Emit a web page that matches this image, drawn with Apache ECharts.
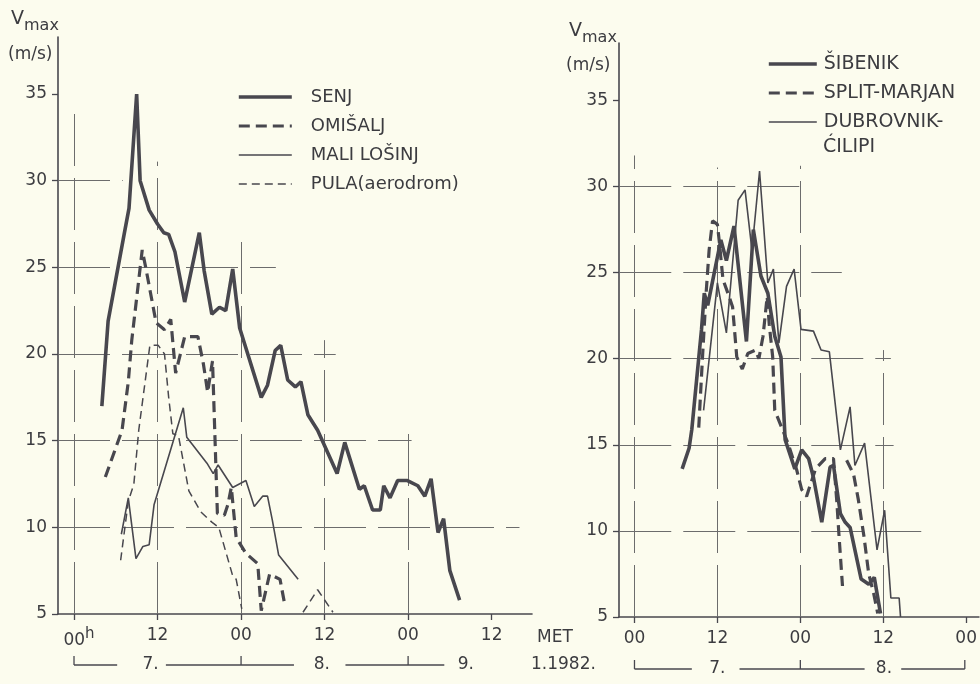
<!DOCTYPE html>
<html><head><meta charset="utf-8">
<script src="https://cdn.jsdelivr.net/npm/echarts@6/dist/echarts.min.js"></script>
<style>html,body{margin:0;padding:0;background:#fcfcee}#c{width:980px;height:684px}</style>
</head><body><div id="c"></div>
<script>
// ---- data: [hour from 7.1.1982 00h MET, v max (m/s)] ----
const senj = [[4,17],[4.9,21.9],[7.2,26.9],[7.9,28.4],[9,35],[9.5,30],[10.8,28.3],[12,27.5],[12.9,27],[13.6,26.9],[14.5,25.9],[15.9,23],[18,27],[18.7,24.8],[19.8,22.3],[20.9,22.7],[21.8,22.5],[22.8,24.9],[23.8,21.5],[26.9,17.5],[27.8,18.2],[28.9,20.2],[29.7,20.5],[30.7,18.5],[31.8,18.1],[32.6,18.4],[33.6,16.5],[35,15.6],[37.8,13.1],[38.9,14.9],[41,12.2],[41.7,12.4],[42.9,11],[44,11],[44.5,12.4],[45.4,11.7],[46.5,12.7],[47.9,12.7],[49.4,12.4],[50.4,11.8],[51.3,12.8],[52.3,9.7],[53.1,10.5],[54,7.5],[55.4,5.8]];
const omisalj = [[4.5,12.9],[6.9,15.6],[7.8,18.4],[8.3,20.8],[9.8,26],[10.3,25],[11.8,21.8],[13,21.4],[13.9,22],[14.6,18.9],[15.9,21],[17.8,21],[18.6,19.4],[19.2,17.8],[19.9,19.6],[20.6,10.8],[21.6,10.7],[22.1,11.3],[22.6,12.3],[23.3,9.4],[24.7,8.5],[26.4,7.9],[26.9,5.2],[28.1,7.3],[29.6,7.0],[30.3,5.5]];
const maliLosinj = [[6.8,9.6],[7.8,11.7],[8.9,8.2],[9.9,8.9],[10.8,9.0],[11.5,11.3],[15.7,16.9],[16.2,15.2],[19.1,13.7],[20,13.1],[20.7,13.6],[22.8,12.3],[24.7,12.7],[25.9,11.2],[27.1,11.8],[27.8,11.8],[28.5,10.4],[29.4,8.4],[32.2,7.0]];
const pulaA = [[6.7,8.1],[7.8,11.5],[8.6,12.5],[9.3,15.6],[10.9,20.5],[12.1,20.5],[13,20],[13.6,17.5],[14.2,15.4],[15,15.3],[16.5,12.1],[18.2,10.9],[19.8,10.3],[20.8,10],[22.8,7.2],[23.3,7.0],[24.1,5.3]];
const pulaB = [[32.9,5.1],[35,6.4],[37.2,5.1]];
const sibenik = [[6.9,13.6],[7.9,14.8],[8.3,15.9],[9.7,21.7],[10.1,23.8],[10.6,23.1],[12.5,26.9],[13.3,25.7],[14.4,27.7],[16.2,21],[17.2,27.5],[18.3,24.8],[19.3,23.8],[20.3,21.3],[21.2,20.1],[21.8,15.3],[23.2,13.6],[24.2,14.7],[25.2,14.2],[25.9,13.1],[27.1,10.5],[28.3,13.7],[28.8,13.8],[29.8,11],[30.5,10.5],[31.2,10.2],[32.8,7.2],[33.9,6.9],[34.7,7.3],[35.6,5.2]];
const splitA = [[9.3,16],[9.9,20.5],[10.4,24],[10.8,26.3],[11.3,28],[12,27.8],[12.3,26.7],[12.8,24.6],[13.7,23.6],[14.2,23],[14.8,20.1],[15.6,19.4],[16.4,20.3],[17.5,20.5],[18,20],[18.6,21.3],[19.2,23.6],[19.5,22],[20,20.1],[20.3,17],[21.6,15.7],[22.2,15.1],[23.5,13.5],[24.2,12.4],[24.9,12],[26.2,13.6],[27.6,14.2],[28.8,14.2],[29.3,11.6],[29.6,9.7],[30.1,6.8]];
const splitB = [[30.7,14.1],[31.7,13.3],[32.4,11.8],[33.2,9.7],[33.9,7.5],[34.6,6.4],[35.2,5.2]];
const dubrovnik = [[10,17],[12,24.4],[13.3,21.5],[15,29.2],[16,29.8],[17,26.3],[18.1,30.9],[19.3,24.4],[20.1,25.2],[20.9,20.9],[22,24.2],[23.1,25.2],[24.1,21.7],[25.9,21.6],[27,20.5],[28.2,20.4],[29.8,14.7],[31.2,17.2],[31.9,13.8],[33.3,15.1],[35.1,8.9],[36.2,11.2],[37.1,6.1],[38.3,6.1],[38.5,5]];

const yTicks = [5,10,15,20,25,30,35];
const xTicksL = [0,12,24,36,48,60];
const xTicksR = [0,12,24,36,48];
const namesL = ['SENJ','OMIŠALJ','MALI LOŠINJ','PULA(aerodrom)'];
const namesR = ['ŠIBENIK','SPLIT-MARJAN','DUBROVNIK-ĆILIPI'];

// ---- partial graph-paper grid (value, from, to) ----
const gridHL = [[10,-2.3,64],[15,-2.3,48.5],[20,-2.3,37.6],[25,-2.3,29],[30,-2.3,7]];
const gridVL = [[0,5,33.9],[12,5,31.1],[24,5,26.8],[36,5,20.8],[48,5,15.6]];
const gridHR = [[10,-2.2,41.5],[15,-2.2,37.5],[20,-2.2,37.1],[25,-2.2,30],[30,-2.2,25]];
const gridVR = [[0,5,31.8],[12,5,31.1],[24,5,31.2],[36,5,20.5]];

const INK = '#48474e', TXT = '#3c3c40', GRD = '#6c6c6c', FONT = 'DejaVu Sans';
const W_THICK = 3.6, W_THICKD = 3.2, W_THIN = 1.6, W_THIND = 1.5;
const DASH = [11,6], DASH_THIN = [8,5];

function gridLines(H, V){
  const d = [];
  H.forEach(([v,a,b]) => d.push([{coord:[a,v]},{coord:[b,v]}]));
  V.forEach(([h,a,b]) => d.push([{coord:[h,a]},{coord:[h,b]}]));
  return d;
}
function xAx(idx, min, max, ticks, first){
  return {type:'value', gridIndex:idx, min:min, max:max,
    axisLine:{show:true, onZero:false, lineStyle:{color:INK, width:1.6}},
    axisTick:{show:true, customValues:ticks, length:6, lineStyle:{color:INK, width:1.3}},
    axisLabel:{customValues:ticks, margin:13, fontSize:17, fontFamily:FONT, color:TXT,
      formatter: v => (v % 24 === 0 ? (v === 0 && first ? '{a|00}{h|h}' : '00') : '12'),
      rich:{a:{fontSize:17, fontFamily:FONT, color:TXT, padding:[0,0,0,10]},
            h:{fontSize:15, fontFamily:FONT, color:TXT, padding:[0,0,12,0]}}},
    splitLine:{show:false}};
}
function yAx(idx, max){
  return {type:'value', gridIndex:idx, min:5, max:max,
    axisLine:{show:true, onZero:false, lineStyle:{color:INK, width:1.6}},
    axisTick:{show:true, customValues:yTicks, length:6, lineStyle:{color:INK, width:1.3}},
    axisLabel:{customValues:yTicks, margin:11, fontSize:17, fontFamily:FONT, color:TXT},
    splitLine:{show:false}};
}
function line(name, ax, data, width, type){
  return {name:name, type:'line', xAxisIndex:ax, yAxisIndex:ax, data:data, symbol:'none', showSymbol:false,
    connectNulls:false, z:5, lineStyle:{color:INK, width:width, type:type}, itemStyle:{color:INK}};
}
const legItem = (name, width, type) => ({name:name, lineStyle:{width:width, type:type, color:INK}});

const chart = echarts.init(document.getElementById('c'));
chart.setOption({
  backgroundColor:'#fcfcee', animation:false,
  textStyle:{fontFamily:FONT},
  grid:[{left:58, top:37, width:474, height:577}, {left:619, top:43, width:361, height:574}],
  xAxis:[xAx(0,-2.3,65.8,xTicksL,true), xAx(1,-2.24,49.85,xTicksR,false)],
  yAxis:[yAx(0,38.29), yAx(1,38.33)],
  legend:[
    {data:[legItem(namesL[0],W_THICK,'solid'), legItem(namesL[1],W_THICKD,DASH), legItem(namesL[2],W_THIN,'solid'), legItem(namesL[3],W_THIND,DASH_THIN)],
     left:232, top:82, orient:'vertical', itemWidth:53, itemHeight:14, itemGap:9, selectedMode:false,
     itemStyle:{opacity:0},
     textStyle:{fontSize:18, fontFamily:FONT, color:TXT, lineHeight:20, padding:[0,0,0,14]}},
    {data:[legItem(namesR[0],W_THICK,'solid'), legItem(namesR[1],W_THICKD,DASH), legItem(namesR[2],W_THIN,'solid')],
     left:762, top:47, orient:'vertical', itemWidth:48, itemHeight:14, itemGap:5, selectedMode:false,
     itemStyle:{opacity:0},
     formatter: n => (n === 'DUBROVNIK-ĆILIPI' ? 'DUBROVNIK-' : n),
     textStyle:{fontSize:19, fontFamily:FONT, color:TXT, lineHeight:24, padding:[0,0,0,2]}}
  ],
  series:[
    {type:'line', xAxisIndex:0, yAxisIndex:0, data:[], silent:true, z:1,
     markLine:{silent:true, symbol:['none','none'], label:{show:false}, animation:false,
       lineStyle:{color:GRD, width:1, type:[52,12]}, data:gridLines(gridHL, gridVL)}},
    {type:'line', xAxisIndex:1, yAxisIndex:1, data:[], silent:true, z:1,
     markLine:{silent:true, symbol:['none','none'], label:{show:false}, animation:false,
       lineStyle:{color:GRD, width:1, type:[52,12]}, data:gridLines(gridHR, gridVR)}},
    line('SENJ', 0, senj, W_THICK, 'solid'),
    line('OMIŠALJ', 0, omisalj, W_THICKD, DASH),
    line('MALI LOŠINJ', 0, maliLosinj, W_THIN, 'solid'),
    line('PULA(aerodrom)', 0, pulaA.concat([null], pulaB), W_THIND, DASH_THIN),
    line('ŠIBENIK', 1, sibenik, W_THICK, 'solid'),
    line('SPLIT-MARJAN', 1, splitA.concat([null], splitB), W_THICKD, DASH),
    line('DUBROVNIK-ĆILIPI', 1, dubrovnik, W_THIN, 'solid')
  ]
});

// ---- day brackets below the time axis (in hours) ----
const dayRows = [
  {axis:0, y:665, tick:9, segs:[[0,6.2],[13.2,31.6],[39,53.2]], ticks:[0,24,48], labels:[['7.',11],['8.',35.6],['9.',56.3]]},
  {axis:1, y:669, tick:9, segs:[[0,8.3],[15.2,33.3],[38.6,47.8]], ticks:[0,24,47.8], labels:[['7.',12],['8.',36.1]]}
];
const px = (ax, h) => chart.convertToPixel({xAxisIndex:ax}, h);
const g = [];
dayRows.forEach(r => {
  r.segs.forEach(([a,b]) => g.push({type:'line', silent:true, shape:{x1:px(r.axis,a), y1:r.y, x2:px(r.axis,b), y2:r.y}, style:{stroke:INK, lineWidth:1.3}}));
  r.ticks.forEach(t => g.push({type:'line', silent:true, shape:{x1:px(r.axis,t), y1:r.y-r.tick, x2:px(r.axis,t), y2:r.y}, style:{stroke:INK, lineWidth:1.3}}));
  r.labels.forEach(([s,h]) => g.push({type:'text', silent:true, x:px(r.axis,h), y:r.y, style:{text:s, fontSize:17, fontFamily:FONT, fill:TXT, align:'center', verticalAlign:'middle'}}));
});
const T = (s, x, y, size, align) => ({type:'text', silent:true, x:x, y:y, style:{text:s, fontSize:size, fontFamily:FONT, fill:TXT, align:align||'left', verticalAlign:'middle'}});
const vmax = (x, y) => ({type:'text', silent:true, x:x, y:y, style:{text:'{v|V}{m|max}', fill:TXT, verticalAlign:'middle',
  rich:{v:{fontSize:19, fontFamily:FONT, fill:TXT, lineHeight:24, verticalAlign:'top'},
        m:{fontSize:16, fontFamily:FONT, fill:TXT, lineHeight:24, verticalAlign:'bottom'}}}});
g.push(vmax(11, 22), T('(m/s)', 8, 55, 17));
g.push(vmax(569, 34), T('(m/s)', 566, 66, 17));
g.push(T('MET', 537, 638, 17), T('1.1982.', 531, 665, 17));
g.push(T('ĆILIPI', 823, 147, 19));
chart.setOption({graphic:g});
</script>
</body></html>
